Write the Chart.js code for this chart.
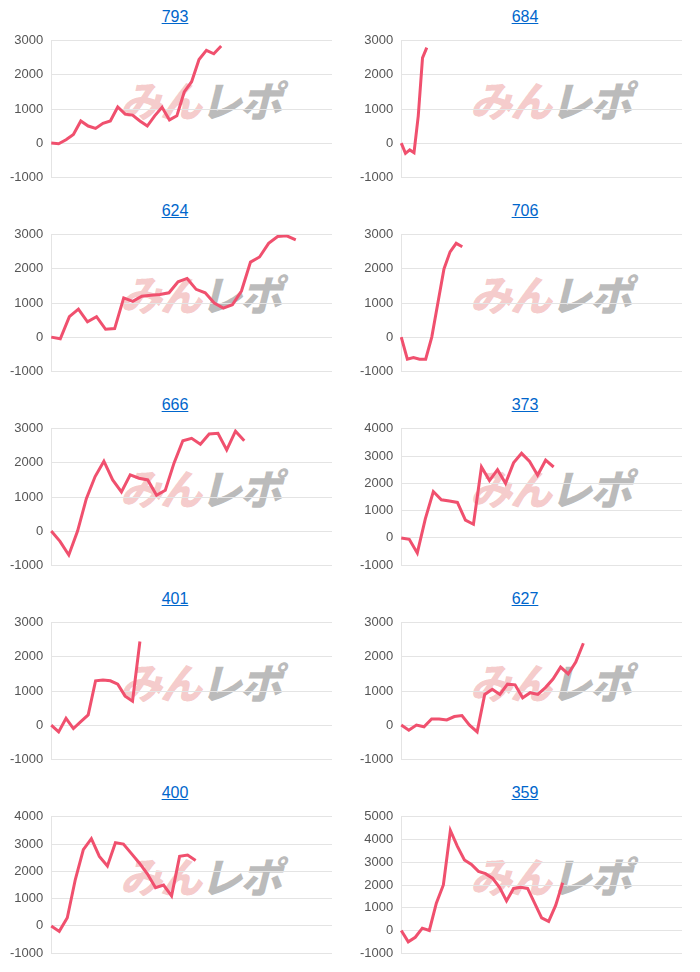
<!DOCTYPE html>
<html>
<head>
<meta charset="utf-8">
<script src="https://cdn.jsdelivr.net/npm/chart.js"></script>
<style>
  body { margin: 0; background: #fff; font-family: "Liberation Sans", Arial, sans-serif; }
  #grid { display: grid; grid-template-columns: 350px 350px; grid-auto-rows: 194px; width: 700px; }
  .cell { position: relative; }
  .title { text-align: center; height: 28px; line-height: 34px; font-size: 16px; }
  .title a { color: #0066cc; text-decoration: underline; }
  .wm { position: absolute; left: 120px; top: 68px; font: italic 900 42px "Noto Sans CJK JP", sans-serif; letter-spacing: -2px; white-space: nowrap; }
  .wm .a { color: rgba(230,120,120,0.4); }
  .wm .b { color: rgba(120,120,120,0.5); }
  .box { position: absolute; left: 0; top: 25px; width: 350px; height: 168px; }
</style>
</head>
<body>
<div id="grid"></div>
<script>
// machine numbers
const titles = ["793", "684", "624", "706", "666", "373", "401", "627", "400", "359"];
// number of games on each x axis
const totals = [39, 67, 32, 47, 33, 36, 39, 38, 36, 41];
const yMax = [3000, 3000, 3000, 3000, 3000, 4000, 3000, 3000, 4000, 5000];

const s793 = [0, -20, 100, 250, 650, 500, 430, 580, 650, 1060, 850, 820, 650, 500, 800, 1050, 680, 800, 1500, 1800, 2450, 2720, 2620, 2850];
const s684 = [0, -300, -200, -280, 800, 2500, 2800];
const s624 = [0, -50, 600, 820, 450, 600, 230, 250, 1150, 1050, 1200, 1230, 1250, 1300, 1620, 1720, 1400, 1300, 1000, 850, 950, 1350, 2200, 2350, 2750, 2950, 2970, 2850];
const s706 = [0, -650, -600, -650, -650, 0, 1000, 2000, 2500, 2750, 2650];
const s666 = [0, -300, -700, 0, 950, 1600, 2050, 1500, 1150, 1650, 1550, 1500, 1050, 1200, 2000, 2650, 2720, 2550, 2850, 2870, 2380, 2930, 2650];
const s373 = [0, -50, -550, 700, 1700, 1400, 1350, 1300, 650, 500, 2600, 2100, 2500, 2000, 2750, 3100, 2800, 2300, 2850, 2600];
const s401 = [0, -200, 200, -100, 100, 300, 1300, 1320, 1300, 1200, 850, 700, 2450];
const s627 = [0, -150, 0, -50, 180, 180, 150, 250, 280, 0, -200, 900, 1050, 900, 1200, 1180, 800, 950, 900, 1100, 1350, 1700, 1500, 1850, 2400];
const s400 = [0, -200, 300, 1700, 2800, 3200, 2550, 2200, 3050, 3000, 2650, 2300, 1900, 1400, 1500, 1100, 2550, 2600, 2400];
const s359 = [0, -500, -300, 100, 0, 1200, 2000, 4400, 3700, 3100, 2900, 2600, 2500, 2300, 1900, 1300, 1850, 1900, 1850, 1200, 550, 400, 1100, 2100];

const series = [s793, s684, s624, s706, s666, s373, s401, s627, s400, s359];

const grid = document.getElementById("grid");
titles.forEach((t, i) => {
  const cell = document.createElement("div");
  cell.className = "cell";
  cell.innerHTML = '<div class="title"><a href="#">' + t + '</a></div>' +
    '<div class="wm"><span class="a">みん</span><span class="b">レポ</span></div>' +
    '<div class="box"><canvas id="c' + i + '"></canvas></div>';
  grid.appendChild(cell);

  new Chart(document.getElementById("c" + i), {
    type: 'line',
    data: {
      labels: Array.from({ length: totals[i] }, (_, k) => k + 1),
      datasets: [{
        data: series[i],
        borderColor: '#f0506e',
        borderWidth: 3,
        pointRadius: 0,
        tension: 0,
        fill: false
      }]
    },
    options: {
      responsive: true,
      maintainAspectRatio: false,
      animation: false,
      layout: { padding: { left: 2, right: 18, top: 0, bottom: 0 } },
      plugins: { legend: { display: false }, tooltip: { enabled: false } },
      scales: {
        x: { display: false },
        y: {
          min: -1000, max: yMax[i],
          ticks: { stepSize: 1000, color: '#555', font: { size: 13 }, padding: 8, callback: v => String(v) },
          grid: { color: '#e4e4e4', drawTicks: false },
          border: { color: '#e4e4e4' }
        }
      }
    }
  });
});
</script>
</body>
</html>
